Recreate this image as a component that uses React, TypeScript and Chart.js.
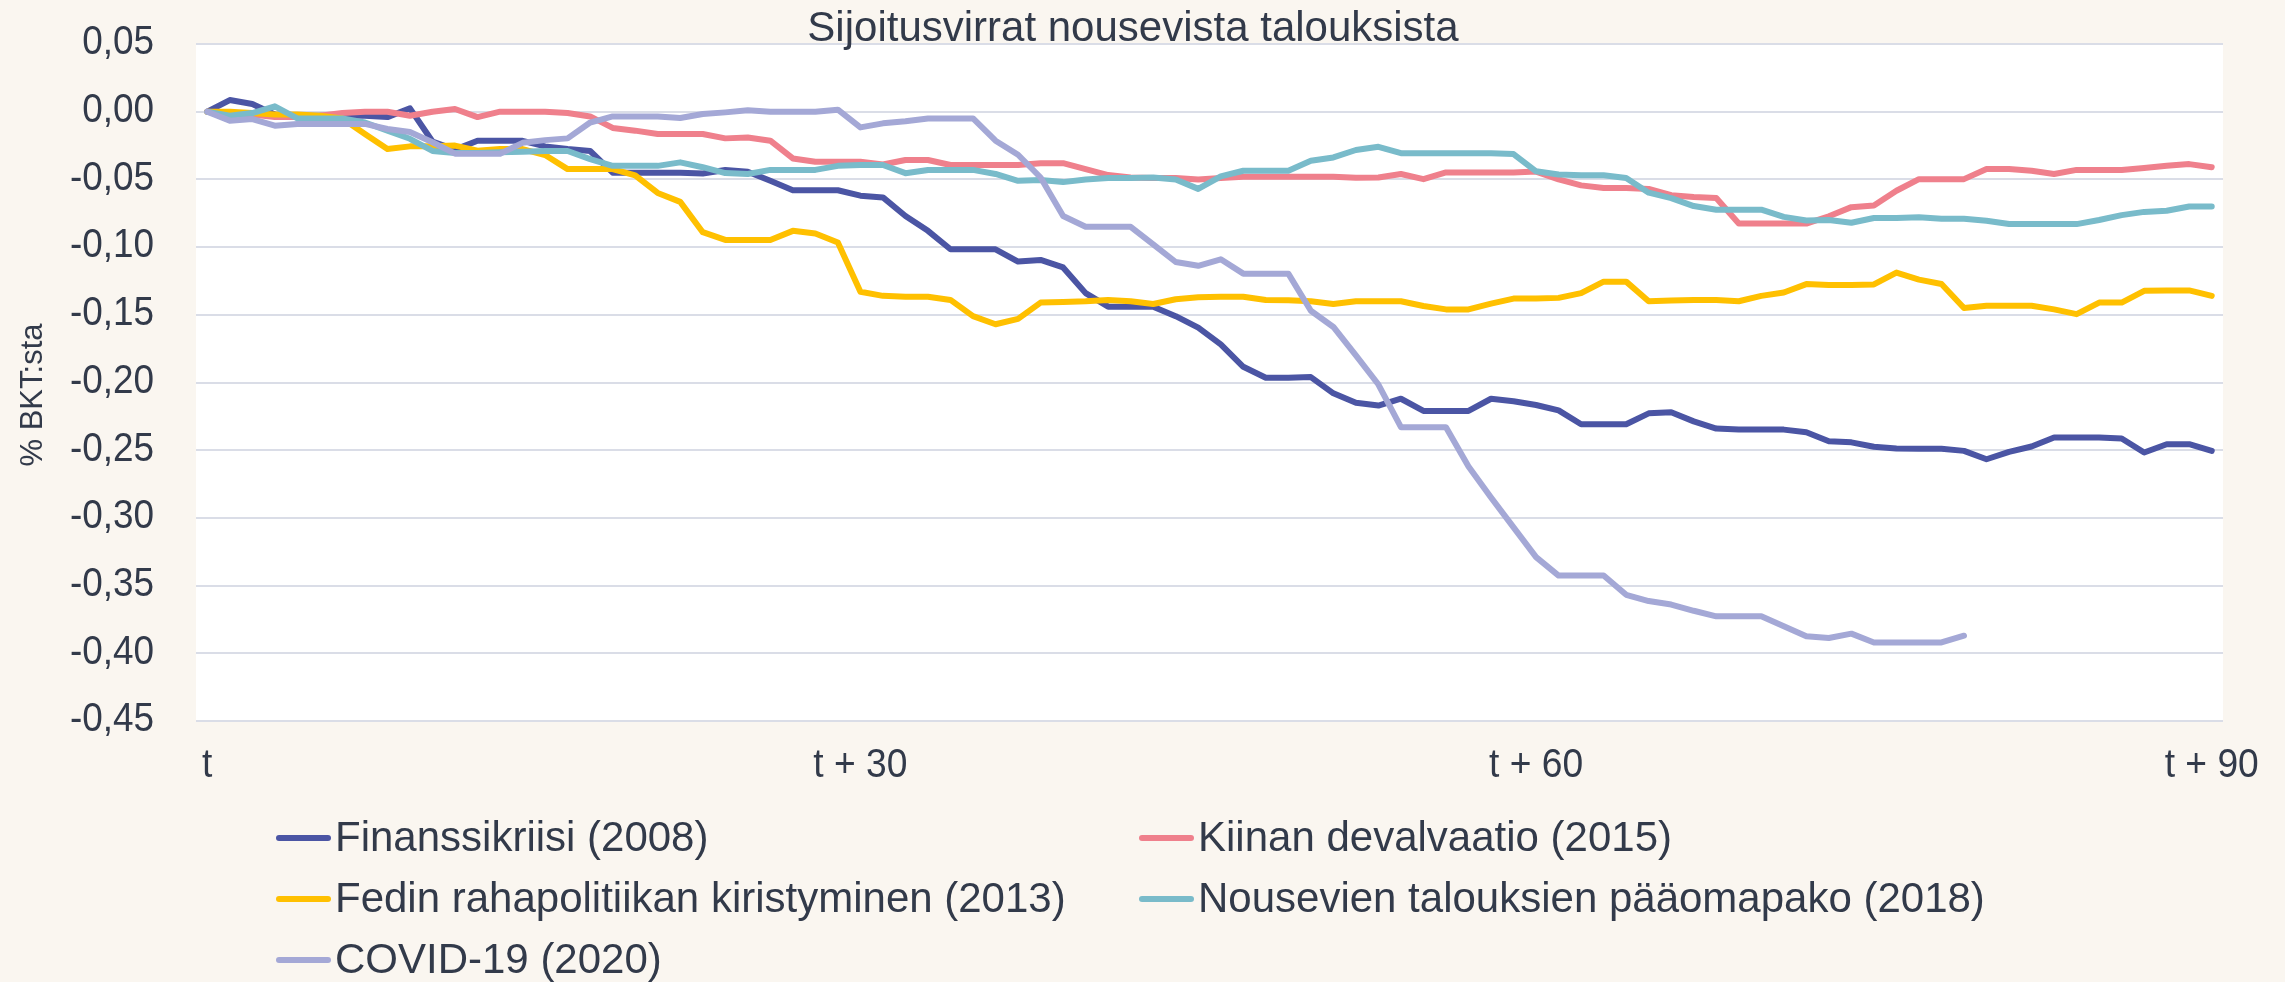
import React, { useEffect, useRef } from 'react';
import { Chart, registerables } from 'chart.js';

Chart.register(...registerables);

// ---- Data ----
const categories: string[] = Array.from({ length: 90 }, (_, i) => `t + ${i}`);
const tickPositions = [0, 29, 59, 89];
const tickTexts = ['t', 't + 30', 't + 60', 't + 90'];
const yTicks = [0.05, 0, -0.05, -0.1, -0.15, -0.2, -0.25, -0.3, -0.35, -0.4, -0.45];

const chartTitle = 'Sijoitusvirrat nousevista talouksista';
const yAxisTitle = '% BKT:sta';

const seriesNames = [
  'Finanssikriisi (2008)',
  'Kiinan devalvaatio (2015)',
  'Fedin rahapolitiikan kiristyminen (2013)',
  'Nousevien talouksien pääomapako (2018)',
  'COVID-19 (2020)',
];

const finanssikriisi = [
  0, 0.0086, 0.0057, -0.002, -0.003, -0.003, -0.003, -0.003, -0.004, 0.0025,
  -0.022, -0.028, -0.0215, -0.0215, -0.0215, -0.0256, -0.0276, -0.029, -0.045, -0.045,
  -0.045, -0.045, -0.0456, -0.043, -0.0443, -0.051, -0.058, -0.058, -0.058, -0.062,
  -0.0633, -0.077, -0.088, -0.1016, -0.1016, -0.1016, -0.1107, -0.1095, -0.115, -0.134,
  -0.144, -0.144, -0.144, -0.151, -0.1595, -0.1718, -0.1884, -0.1965, -0.1965, -0.196,
  -0.208, -0.215, -0.217, -0.212, -0.221, -0.221, -0.221, -0.212, -0.2138, -0.2166,
  -0.2206, -0.2308, -0.2308, -0.2308, -0.2228, -0.222, -0.2287, -0.234, -0.2348, -0.2348,
  -0.2348, -0.2367, -0.2434, -0.2442, -0.2475, -0.2488, -0.249, -0.249, -0.2505, -0.2567,
  -0.2512, -0.2473, -0.2406, -0.2406, -0.2406, -0.2414, -0.2517, -0.2456, -0.2456, -0.2505,
];

const kiinanDevalvaatio = [
  0, -0.001, -0.002, -0.004, -0.004, -0.003, -0.001, 0, 0, -0.003,
  0, 0.002, -0.004, 0, 0, 0, -0.001, -0.0035, -0.012, -0.014,
  -0.0165, -0.0165, -0.0165, -0.0197, -0.019, -0.0214, -0.0345, -0.037, -0.037, -0.037,
  -0.039, -0.0357, -0.0357, -0.0394, -0.0394, -0.0394, -0.0394, -0.038, -0.038, -0.0424,
  -0.0468, -0.0486, -0.049, -0.049, -0.05, -0.049, -0.048, -0.048, -0.048, -0.048,
  -0.048, -0.0488, -0.0486, -0.046, -0.0498, -0.0449, -0.0449, -0.0449, -0.0449, -0.0442,
  -0.05, -0.0544, -0.0563, -0.0563, -0.057, -0.0617, -0.063, -0.0638, -0.0826, -0.0826,
  -0.0826, -0.0826, -0.0772, -0.0705, -0.0692, -0.0584, -0.0498, -0.0498, -0.0498, -0.0424,
  -0.0424, -0.0436, -0.046, -0.043, -0.043, -0.043, -0.0416, -0.04, -0.0387, -0.041,
];

const fedinKiristyminen = [
  0, 0, -0.001, -0.002, -0.002, -0.003, -0.005, -0.0165, -0.0276, -0.0256,
  -0.0256, -0.025, -0.0288, -0.0276, -0.0276, -0.032, -0.0424, -0.0424, -0.0424, -0.047,
  -0.06, -0.0666, -0.089, -0.0947, -0.0947, -0.0947, -0.088, -0.09, -0.0966, -0.133,
  -0.136, -0.1366, -0.1366, -0.139, -0.151, -0.157, -0.153, -0.141, -0.1405, -0.14,
  -0.139, -0.14, -0.142, -0.1385, -0.137, -0.1366, -0.1366, -0.139, -0.1393, -0.14,
  -0.142, -0.14, -0.14, -0.14, -0.1435, -0.146, -0.146, -0.1418, -0.138, -0.138,
  -0.1375, -0.134, -0.1255, -0.1255, -0.14, -0.1394, -0.139, -0.139, -0.14, -0.136,
  -0.1335, -0.1273, -0.128, -0.128, -0.1276, -0.1188, -0.124, -0.1273, -0.145, -0.1433,
  -0.1433, -0.1433, -0.146, -0.1495, -0.141, -0.141, -0.1323, -0.132, -0.132, -0.136,
];

const paaomapako = [
  0, -0.003, -0.001, 0.004, -0.005, -0.005, -0.005, -0.008, -0.014, -0.02,
  -0.029, -0.0305, -0.0305, -0.03, -0.0295, -0.029, -0.029, -0.035, -0.04, -0.04,
  -0.04, -0.0374, -0.041, -0.0453, -0.046, -0.043, -0.043, -0.043, -0.04, -0.0394,
  -0.0394, -0.0454, -0.043, -0.043, -0.043, -0.046, -0.051, -0.0505, -0.052, -0.05,
  -0.049, -0.049, -0.0486, -0.05, -0.057, -0.0478, -0.0436, -0.0436, -0.0436, -0.0362,
  -0.0338, -0.0283, -0.0259, -0.0306, -0.0306, -0.0306, -0.0306, -0.0306, -0.0313, -0.044,
  -0.0464, -0.047, -0.047, -0.049, -0.0598, -0.0638, -0.0697, -0.0724, -0.0724, -0.0724,
  -0.0777, -0.0804, -0.08, -0.082, -0.0785, -0.0785, -0.078, -0.079, -0.079, -0.0805,
  -0.083, -0.083, -0.083, -0.083, -0.08, -0.0764, -0.074, -0.0731, -0.07, -0.07,
];

const covid19 = [
  0, -0.0066, -0.0054, -0.0103, -0.009, -0.009, -0.009, -0.009, -0.0128, -0.015,
  -0.0226, -0.031, -0.031, -0.031, -0.023, -0.021, -0.0197, -0.008, -0.0035, -0.0035,
  -0.0035, -0.0047, -0.0017, -0.0005, 0.001, 0, 0, 0, 0.0015, -0.0116,
  -0.0086, -0.0071, -0.005, -0.005, -0.005, -0.0214, -0.0318, -0.0486, -0.077, -0.085,
  -0.085, -0.085, -0.098, -0.111, -0.1138, -0.109, -0.1196, -0.1196, -0.1196, -0.147,
  -0.159, -0.18, -0.2015, -0.233, -0.233, -0.233, -0.262, -0.285, -0.307, -0.329,
  -0.3426, -0.3426, -0.3426, -0.3568, -0.3614, -0.364, -0.3686, -0.3727, -0.3727, -0.3727,
  -0.38, -0.3874, -0.3887, -0.3855, -0.392, -0.392, -0.392, -0.392, -0.387,
];

const seriesValues = [finanssikriisi, kiinanDevalvaatio, fedinKiristyminen, paaomapako, covid19];
const seriesColors = ['#4B55A4', '#EF808C', '#FFC000', '#79BBCA', '#A4A8D6'];
const drawOrder = [5, 4, 3, 2, 1];

// ---- Styles ----
const FONT = '"Liberation Sans", Arial, Helvetica, sans-serif';
const BG = '#FAF6F0';
const TEXT = '#323A4A';
const GRID = '#DADDE7';

const fmt = (v: number) => {
  const s = Math.abs(v).toFixed(2).replace('.', ',');
  return (v < -1e-9 ? '-' : '') + s;
};

// draw text horizontally condensed by factor k
const drawText = (ctx: any, text: string, x: number, y: number, k: number, align: string) => {
  ctx.save();
  ctx.translate(x, y);
  ctx.scale(k, 1);
  ctx.textAlign = align;
  ctx.fillText(text, 0, 0);
  ctx.restore();
};

const decorPlugin = {
  id: 'decor',
  beforeDraw(chart: any) {
    const { ctx, chartArea: a, width, height } = chart;
    ctx.save();
    ctx.fillStyle = BG;
    ctx.fillRect(0, 0, width, height);
    ctx.fillStyle = '#FFFFFF';
    ctx.fillRect(a.left, a.top, a.right - a.left, a.bottom - a.top);
    ctx.restore();
  },
  afterDraw(chart: any) {
    const { ctx, chartArea: a } = chart;
    const xs = chart.scales.x;
    const ys = chart.scales.y;
    ctx.save();
    ctx.fillStyle = TEXT;
    ctx.textBaseline = 'middle';

    // y tick labels
    ctx.font = `41px ${FONT}`;
    yTicks.forEach((v) => {
      drawText(ctx, fmt(v), a.left - 42, ys.getPixelForValue(v) - 1, 0.9, 'right');
    });
    // x tick labels
    ctx.font = `40px ${FONT}`;
    tickPositions.forEach((p, i) => {
      drawText(ctx, tickTexts[i], xs.getPixelForValue(p), a.bottom + 45, 0.93, 'center');
    });

    // chart title
    ctx.font = `42px ${FONT}`;
    ctx.textAlign = 'center';
    ctx.fillText(chartTitle, 1133, 29);

    // y-axis title
    ctx.save();
    ctx.translate(33, 395);
    ctx.rotate(-Math.PI / 2);
    ctx.font = `31px ${FONT}`;
    ctx.textAlign = 'center';
    ctx.fillText(yAxisTitle, 0, 0);
    ctx.restore();

    // legend (two columns)
    const colX = [276, 1139];
    const rowY = [838, 899, 960];
    ctx.font = `42px ${FONT}`;
    ctx.textAlign = 'left';
    chart.data.datasets.forEach((ds: any, i: number) => {
      const x = colX[i % 2];
      const y = rowY[Math.floor(i / 2)];
      ctx.strokeStyle = ds.borderColor;
      ctx.lineWidth = 6;
      ctx.lineCap = 'round';
      ctx.beginPath();
      ctx.moveTo(x + 3, y);
      ctx.lineTo(x + 52, y);
      ctx.stroke();
      ctx.fillStyle = TEXT;
      ctx.fillText(ds.label, x + 59, y + 1);
    });
    ctx.restore();
  },
};

export default function App() {
  const canvasRef = useRef<HTMLCanvasElement | null>(null);

  useEffect(() => {
    const canvas = canvasRef.current;
    if (!canvas) return;
    const chart = new Chart(canvas, {
      type: 'line',
      data: {
        labels: categories,
        datasets: seriesNames.map((name, i) => ({
          label: name,
          data: seriesValues[i],
          borderColor: seriesColors[i],
          backgroundColor: seriesColors[i],
          borderWidth: 6,
          pointRadius: 0,
          pointHoverRadius: 0,
          tension: 0,
          fill: false,
          borderJoinStyle: 'round' as const,
          borderCapStyle: 'round' as const,
          order: drawOrder[i],
        })),
      },
      options: {
        responsive: false,
        animation: false,
        events: [],
        layout: { padding: { top: 44, right: 62, bottom: 0, left: 0 } },
        plugins: {
          legend: { display: false },
          title: { display: false },
          tooltip: { enabled: false },
        },
        scales: {
          x: {
            type: 'category',
            offset: true,
            grid: { display: false, drawTicks: false },
            border: { display: false },
            ticks: { display: false },
            afterFit: (s: any) => {
              s.height = 261;
              s.paddingLeft = 0;
              s.paddingRight = 0;
            },
          },
          y: {
            type: 'linear',
            min: yTicks[yTicks.length - 1],
            max: yTicks[0],
            afterBuildTicks: (s: any) => {
              s.ticks = yTicks.map((v) => ({ value: v }));
            },
            afterFit: (s: any) => {
              s.width = 196;
              s.paddingTop = 0;
              s.paddingBottom = 0;
            },
            grid: { color: GRID, lineWidth: 2, drawTicks: false },
            border: { display: false },
            ticks: { display: false },
          },
        },
      },
      plugins: [decorPlugin],
    } as any);
    return () => chart.destroy();
  }, []);

  return (
    <div style={{ position: 'absolute', left: 0, top: 0, width: 2285, height: 982, background: BG }}>
      <canvas ref={canvasRef} width={2285} height={982} style={{ display: 'block', width: 2285, height: 982 }} />
    </div>
  );
}
